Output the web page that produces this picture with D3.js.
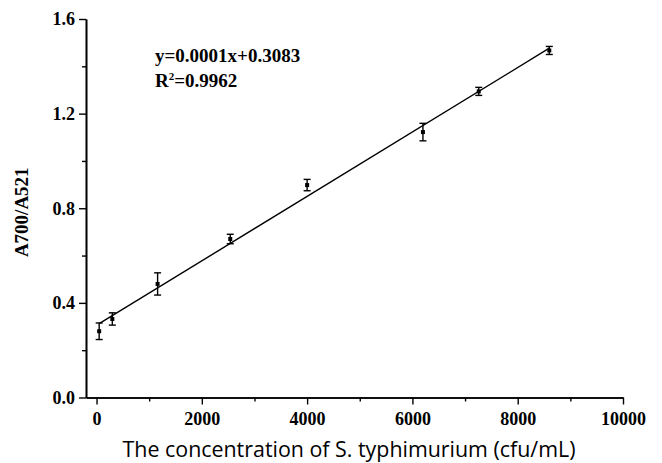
<!DOCTYPE html>
<html>
<head>
<meta charset="utf-8">
<script src="https://cdn.jsdelivr.net/npm/d3@7"></script>
<style>
  html, body { margin: 0; padding: 0; background: #fff; }
  svg { display: block; }
</style>
</head>
<body>
<svg id="chart" width="662" height="463"></svg>
<script>
// Calibration data: concentration (cfu/mL) vs absorbance ratio A700/A521
const concentration = [50, 300, 1160, 2540, 4000, 6200, 7260, 8600];
const ratio = [0.280, 0.332, 0.480, 0.670, 0.898, 1.122, 1.294, 1.467];
const ratioErr = [0.035, 0.026, 0.047, 0.020, 0.024, 0.037, 0.017, 0.017];
const xTicks = [0, 2000, 4000, 6000, 8000, 10000];
const yTicks = [0.0, 0.4, 0.8, 1.2, 1.6];
const equationText = "y=0.0001x+0.3083";
const r2Value = "0.9962";

const svg = d3.select("#chart");
const serif = "'Liberation Serif', 'Times New Roman', serif";

const x = d3.scaleLinear().domain([-200, 10000]).range([86, 623]);
const y = d3.scaleLinear().domain([0, 1.6]).range([397.5, 19]);

// Axes: major ticks with labels, minor ticks in between
const xAxis = d3.axisBottom(x).tickValues(xTicks).tickFormat(d3.format("d")).tickSize(7).tickSizeOuter(0).tickPadding(8);
const xMinor = d3.axisBottom(x).tickValues(d3.range(1000, 10000, 2000)).tickFormat("").tickSize(4).tickSizeOuter(0);
const yAxis = d3.axisLeft(y).tickValues(yTicks).tickFormat(d3.format(".1f")).tickSize(7).tickSizeOuter(0).tickPadding(4);
const yMinor = d3.axisLeft(y).tickValues(d3.range(0.2, 1.6, 0.4)).tickFormat("").tickSize(4).tickSizeOuter(0);

function styleAxis(g) {
  g.select(".domain").attr("stroke", "#000").attr("stroke-width", 1.6);
  g.selectAll(".tick line").attr("stroke", "#000").attr("stroke-width", 1.4);
  g.selectAll(".tick text")
    .attr("fill", "#000")
    .style("font-family", serif)
    .style("font-weight", "bold")
    .style("font-size", "18px");
}

svg.append("g").attr("transform", `translate(0,${y(0)})`).call(xMinor).call(styleAxis);
svg.append("g").attr("transform", `translate(0,${y(0)})`).call(xAxis).call(styleAxis);
svg.append("g").attr("transform", `translate(${x(-200)},0)`).call(yMinor).call(styleAxis);
svg.append("g").attr("transform", `translate(${x(-200)},0)`).call(yAxis).call(styleAxis);

// Least-squares fit through the measured points
const mx = d3.mean(concentration), my = d3.mean(ratio);
const sxy = d3.sum(concentration, (c, i) => (c - mx) * (ratio[i] - my));
const sxx = d3.sum(concentration, c => (c - mx) * (c - mx));
const slope = sxy / sxx, intercept = my - slope * mx;
const xFit = d3.extent(concentration);

svg.append("line")
  .attr("x1", x(xFit[0])).attr("y1", y(intercept + slope * xFit[0]))
  .attr("x2", x(xFit[1])).attr("y2", y(intercept + slope * xFit[1]))
  .attr("stroke", "#000").attr("stroke-width", 1.4);

// Error bars and markers
const pts = concentration.map((c, i) => ({ c, v: ratio[i], e: ratioErr[i] }));
const eb = svg.append("g").attr("stroke", "#000").attr("stroke-width", 1.4);
pts.forEach(p => {
  const cx = x(p.c);
  eb.append("line").attr("x1", cx).attr("x2", cx).attr("y1", y(p.v + p.e)).attr("y2", y(p.v - p.e));
  eb.append("line").attr("x1", cx - 3.5).attr("x2", cx + 3.5).attr("y1", y(p.v + p.e)).attr("y2", y(p.v + p.e));
  eb.append("line").attr("x1", cx - 3.5).attr("x2", cx + 3.5).attr("y1", y(p.v - p.e)).attr("y2", y(p.v - p.e));
});
svg.append("g").selectAll("rect").data(pts).join("rect")
  .attr("x", d => x(d.c) - 2).attr("y", d => y(d.v) - 2)
  .attr("width", 4).attr("height", 4).attr("fill", "#000");

// Regression equation
const eq = svg.append("g")
  .style("font-family", serif).style("font-weight", "bold").style("font-size", "19px");
eq.append("text").attr("x", 155).attr("y", 62).text(equationText);
const r2 = eq.append("text").attr("x", 155).attr("y", 87);
r2.append("tspan").text("R");
r2.append("tspan").attr("dy", -7).style("font-size", "11px").text("2");
r2.append("tspan").attr("dy", 7).text("=" + r2Value);

// Axis titles
svg.append("text")
  .attr("transform", `translate(28,${(y(0) + y(1.6)) / 2 + 4}) rotate(-90)`)
  .attr("text-anchor", "middle")
  .style("font-family", serif).style("font-weight", "bold").style("font-size", "19px")
  .text("A700/A521");

svg.append("text")
  .attr("x", 349).attr("y", 457)
  .attr("text-anchor", "middle")
  .style("font-family", "'Open Sans', sans-serif").style("font-size", "21.4px")
  .text("The concentration of S. typhimurium (cfu/mL)");
</script>
</body>
</html>
